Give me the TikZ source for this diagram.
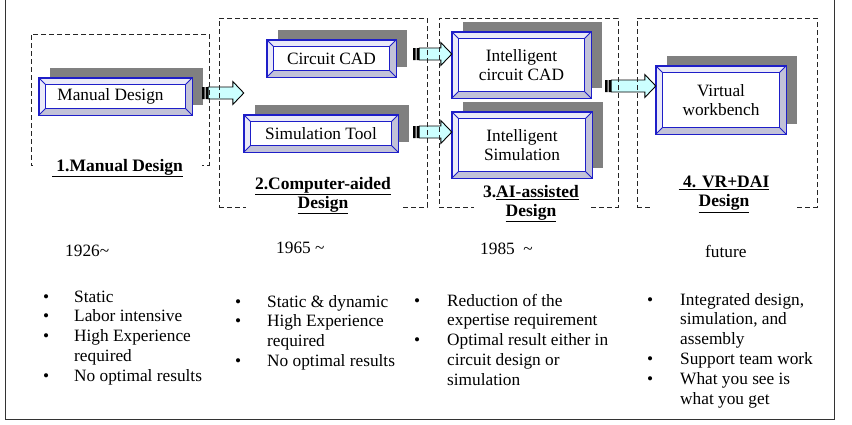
\documentclass[tikz,border=0pt]{standalone}
\usepackage{fontspec}
\setmainfont{Liberation Serif}
\usetikzlibrary{positioning,calc}
\pgfdeclarelayer{background}
\pgfsetlayers{background,main}

\definecolor{btnblue}{RGB}{30,30,200}
\definecolor{bevlight}{RGB}{234,234,248}
\definecolor{bevdark}{RGB}{194,194,216}
\definecolor{shadowgray}{RGB}{128,128,128}
\definecolor{arrowcyan}{RGB}{204,255,255}

\newcommand{\bodysize}{\fontsize{17.3}{19.8}\selectfont}
\newcommand{\labsize}{\fontsize{17.5}{19}\selectfont\bfseries}

% bevelled button with drop shadow, drawn behind node #1
\newcommand{\bevel}[1]{%
  \begin{pgfonlayer}{background}
    \fill[shadowgray] ([shift={(11,-10)}]#1.north west) rectangle ([shift={(11,-10)}]#1.south east);
    \fill[bevlight] (#1.north west) rectangle (#1.south east);
    \fill[bevdark] (#1.north east) -- (#1.south east) -- (#1.south west)
      -- ([shift={(7,-7)}]#1.south west) -- ([shift={(-7,-7)}]#1.south east)
      -- ([shift={(-7,7)}]#1.north east) -- cycle;
    \filldraw[fill=white, draw=btnblue, line width=1.2pt] ([shift={(7,7)}]#1.north west) rectangle ([shift={(-7,-7)}]#1.south east);
    \draw[btnblue, line width=1.4pt] (#1.north west) rectangle (#1.south east);
    \draw[btnblue, line width=0.8pt] (#1.north west) -- ++(7,7) (#1.north east) -- ++(-7,7)
      (#1.south east) -- ++(-7,-7) (#1.south west) -- ++(7,-7);
  \end{pgfonlayer}}

% striped block arrow from tail #1 to tip #2 (same height)
\newcommand{\blockarrow}[2]{%
  \fill[black] let \p1=(#1) in (\x1,\y1-6pt) rectangle (\x1+2.5pt,\y1+6pt)
    (\x1+3.5pt,\y1-6pt) rectangle (\x1+6pt,\y1+6pt);
  \filldraw[arrowbody] let \p1=(#1), \p2=(#2) in
    (\x1+6pt,\y1-6pt) -- (\x2-11pt,\y1-6pt) -- (\x2-11pt,\y1-11.5pt) -- (\x2,\y1)
    -- (\x2-11pt,\y1+11.5pt) -- (\x2-11pt,\y1+6pt) -- (\x1+6pt,\y1+6pt) -- cycle;}

\begin{document}
\begin{tikzpicture}[x=1pt, y=-1pt,
    btn/.style={inner sep=0pt, align=center, font=\bodysize},
    txt/.style={inner sep=0pt, font=\bodysize},
    stage/.style={draw=black!85, line width=0.9pt, dash pattern=on 5pt off 3pt, inner sep=0pt},
    stagelabel/.style={fill=white, inner xsep=0pt, inner ysep=2pt, align=center, font=\labsize},
    arrowbody/.style={fill=arrowcyan, draw=black, line width=0.9pt}]
    \useasboundingbox (0,0) rectangle (852,424);

    % Outer frame
    \draw[black!80, line width=1pt] (5,0) -- (5,419) -- (834,419) -- (834,0);

    % Buttons
    \node[btn, minimum width=153, minimum height=37] (md) at (115.5,96.5) {Manual Design\hspace{10pt}};
    \node[btn, minimum width=129, minimum height=37] (cc) at (331.5,58.5) {Circuit CAD};
    \node[btn, minimum width=154, minimum height=37] (st) at (321,133.5) {Simulation Tool};
    \node[btn, minimum width=139, minimum height=66] (icc) at (521.5,65) {Intelligent\\circuit CAD};
    \node[btn, minimum width=140, minimum height=66] (isim) at (522,145) {Intelligent\\Simulation};
    \node[btn, minimum width=130, minimum height=68] (vw) at (721,100) {Virtual\\workbench\hspace{8pt}};
    \foreach \b in {md,cc,st,icc,isim,vw} \bevel{\b};

    % Block arrows between stages
    \coordinate (t1) at ([shift={(10,-3.5)}]md.east);
    \coordinate (h1) at (t1 -| st.west);
    \coordinate (t2) at ([shift={(17,-4.5)}]cc.east);
    \coordinate (h2) at (t2 -| icc.west);
    \coordinate (t3) at ([shift={(15,-1.5)}]st.east);
    \coordinate (h3) at (t3 -| isim.west);
    \coordinate (t4) at ([shift={(14,21)}]icc.east);
    \coordinate (h4) at (t4 -| vw.west);
    \foreach \t/\h in {t1/h1, t2/h2, t3/h3, t4/h4} \blockarrow{\t}{\h};

    % Stage frames and titles
    \node[stage, minimum width=178, minimum height=131] (s1) at (120,99.5) {};
    \node[stage, minimum width=208, minimum height=189] (s2) at (323,112.5) {};
    \node[stage, minimum width=179, minimum height=189] (s3) at (528.5,112.5) {};
    \node[stage, minimum width=180, minimum height=189] (s4) at (727,112.5) {};
    \node[stagelabel, minimum width=169] (l1) at (117.5,168) {\underline{\ 1.Manual Design}};
    \node[stagelabel, minimum width=154] (l2) at (323,195.5) {\underline{2.Computer-aided}\\\underline{Design}};
    \node[stagelabel, minimum width=115] (l3) at (531,203.5) {3.\underline{AI-assisted}\\\underline{Design}};
    \node[stagelabel, minimum width=144] (l4) at (724,194.5) {\underline{\ 4. VR+DAI}\\\underline{Design}};

    % Years
    \node[txt, anchor=base west] (y1) at (65,256) {1926\textasciitilde};
    \node[txt, anchor=base west] (y2) at (276,253) {1965 \textasciitilde};
    \node[txt, anchor=base west] (y3) at (480,254) {1985\ \ \textasciitilde};
    \node[txt, anchor=base west] (y4) at (705,257) {future};

    % Characteristics
    \node[txt, anchor=base west] (c1) at (43,302) {\begin{tabular}[t]{@{}p{31pt}@{}l@{}}
      \textbullet & Static\\ \textbullet & Labor intensive\\ \textbullet & High Experience\\
      & required\\ \textbullet & No optimal results\end{tabular}};
    \node[txt, anchor=base west] (c2) at (235,307) {\begin{tabular}[t]{@{}p{32pt}@{}l@{}}
      \textbullet & Static \& dynamic\\ \textbullet & High Experience\\ & required\\
      \textbullet & No optimal results\end{tabular}};
    \node[txt, anchor=base west] (c3) at (414,306) {\begin{tabular}[t]{@{}p{33pt}@{}l@{}}
      \textbullet & Reduction of the\\ & expertise requirement\\ \textbullet & Optimal result either in\\
      & circuit design or\\ & simulation\end{tabular}};
    \node[txt, anchor=base west] (c4) at (647,305) {\begin{tabular}[t]{@{}p{33pt}@{}l@{}}
      \textbullet & Integrated design,\\ & simulation, and\\ & assembly\\
      \textbullet & Support team work\\ \textbullet & What you see is\\ & what you get\end{tabular}};
\end{tikzpicture}
\end{document}
